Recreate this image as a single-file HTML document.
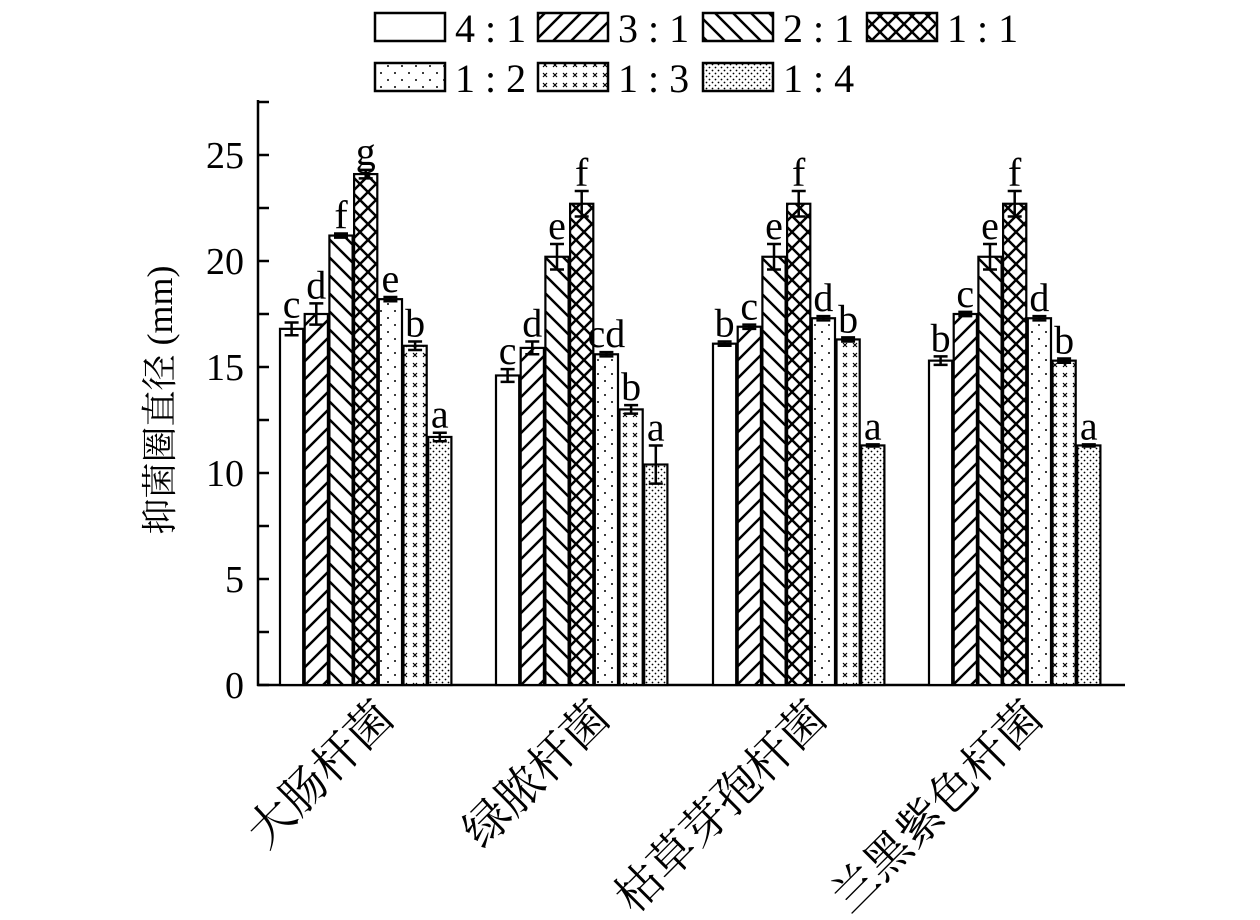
<!DOCTYPE html>
<html><head><meta charset="utf-8"><style>
body{margin:0;background:#fff}
svg{display:block}
text{font-family:"Liberation Serif","Noto Serif CJK SC","Noto Sans CJK SC",serif;fill:#000}
</style></head><body>
<svg id="chart" width="1260" height="920" viewBox="0 0 1260 920" xmlns="http://www.w3.org/2000/svg">
<defs>
<pattern id="p1" patternUnits="userSpaceOnUse" width="20" height="20"><rect width="20" height="20" fill="#fff"/></pattern>
<pattern id="p2" patternUnits="userSpaceOnUse" width="18" height="18"><rect width="18" height="18" fill="#fff"/><path d="M-4,22 L22,-4 M-4,4 L4,-4 M14,22 L22,14" stroke="#000" stroke-width="2.5"/></pattern>
<pattern id="p3" patternUnits="userSpaceOnUse" width="18" height="18"><rect width="18" height="18" fill="#fff"/><path d="M-4,-4 L22,22 M-4,14 L4,22 M14,-4 L22,4" stroke="#000" stroke-width="2.5"/></pattern>
<pattern id="p4" patternUnits="userSpaceOnUse" width="16" height="16"><rect width="16" height="16" fill="#fff"/><path d="M-2,-2 L18,18 M-2,18 L18,-2" stroke="#000" stroke-width="2.5"/></pattern>
<pattern id="p5" patternUnits="userSpaceOnUse" width="14" height="14"><rect width="14" height="14" fill="#fff"/><circle cx="3" cy="3" r="1" fill="#000"/><circle cx="10" cy="10" r="1" fill="#000"/></pattern>
<pattern id="p6" patternUnits="userSpaceOnUse" width="10" height="10"><rect width="10" height="10" fill="#fff"/><path d="M3,3 L7,7 M7,3 L3,7" stroke="#000" stroke-width="1.2"/></pattern>
<pattern id="p7" patternUnits="userSpaceOnUse" width="6" height="6"><rect width="6" height="6" fill="#fff"/><circle cx="1.5" cy="1.5" r="0.9" fill="#000"/><circle cx="4.5" cy="4.5" r="0.9" fill="#000"/></pattern>
</defs>
<g id="plot"></g>
</svg>
<script>
const categories=["大肠杆菌","绿脓杆菌","枯草芽孢杆菌","兰黑紫色杆菌"];
const seriesNames=["4 : 1","3 : 1","2 : 1","1 : 1","1 : 2","1 : 3","1 : 4"];
const values=[[16.8,17.5,21.2,24.1,18.2,16.0,11.7],[14.6,15.9,20.2,22.7,15.6,13.0,10.4],[16.1,16.9,20.2,22.7,17.3,16.3,11.3],[15.3,17.5,20.2,22.7,17.3,15.3,11.3]];
const errors=[[0.3,0.5,0.1,0.2,0.1,0.2,0.2],[0.3,0.3,0.6,0.6,0.1,0.2,0.9],[0.1,0.1,0.6,0.6,0.1,0.1,0.05],[0.2,0.1,0.6,0.6,0.1,0.1,0.05]];
const letters=[["c","d","f","g","e","b","a"],["c","d","e","f","cd","b","a"],["b","c","e","f","d","b","a"],["b","c","e","f","d","b","a"]];
const yTicks=[0,5,10,15,20,25];
const NS="http://www.w3.org/2000/svg";
const g=document.getElementById('plot');
function mk(t,a,p){const e=document.createElementNS(NS,t);for(const k in a)e.setAttribute(k,a[k]);(p||g).appendChild(e);return e;}
const y0=685,pxPer=21.2,xL=258,xR=1125,yTop=100;
const Y=v=>y0-v*pxPer;
const groupStart=[280,496,713,929],bw=24.7;
const X=(gi,si)=>groupStart[gi]+si*bw;
let e=mk('line',{x1:xL,y1:yTop,x2:xL,y2:y0+1,stroke:'#000','stroke-width':2.5});

e=mk('line',{x1:xL-1,y1:y0,x2:xR,y2:y0,stroke:'#000','stroke-width':2.5});

for(let v=0;v<=27.5;v+=2.5){e=mk('line',{x1:xL,y1:Y(v),x2:xL+11,y2:Y(v),stroke:'#000','stroke-width':2.5});
}
yTicks.forEach(v=>{e=mk('text',{x:xL-14,y:Y(v)+13,'text-anchor':'end','font-size':38});e.textContent=v;
});
e=mk('text',{x:0,y:0,'font-size':36,'text-anchor':'middle',transform:'translate(172,400) rotate(-90)'});e.textContent='抑菌圈直径 (mm)';

values.forEach((row,gi)=>{row.forEach((v,si)=>{
 const x=X(gi,si);
 e=mk('rect',{x:x,y:Y(v),width:bw-1.5,height:y0-Y(v),fill:'url(#p'+(si+1)+')',stroke:'#000','stroke-width':2.2});
 
 const cx=x+(bw-1.5)/2,er=errors[gi][si];
 e=mk('path',{d:`M${cx},${Y(v+er)} L${cx},${Y(v-er)} M${cx-7},${Y(v+er)} L${cx+7},${Y(v+er)} M${cx-7},${Y(v-er)} L${cx+7},${Y(v-er)}`,stroke:'#000','stroke-width':2.5,fill:'none'});
 
 e=mk('text',{x:cx,y:Y(v+er)-5,'text-anchor':'middle','font-size':40});e.textContent=letters[gi][si];
 
});
 const cx=X(gi,3.5);
 e=mk('text',{x:0,y:0,'font-size':46,'text-anchor':'end',transform:`translate(${cx+30},${720}) rotate(-45)`});e.textContent=categories[gi];
 
});
const legPos=[[375,13],[538,13],[703,13],[867,13],[375,63],[538,63],[703,63]];
seriesNames.forEach((n,i)=>{
 const [lx,ly]=legPos[i];
 e=mk('rect',{x:lx,y:ly,width:70,height:28,fill:'url(#p'+(i+1)+')',stroke:'#000','stroke-width':2.5});
 
 e=mk('text',{x:lx+80,y:ly+29,'font-size':40});e.textContent=n;
 
});
</script>
</body></html>
